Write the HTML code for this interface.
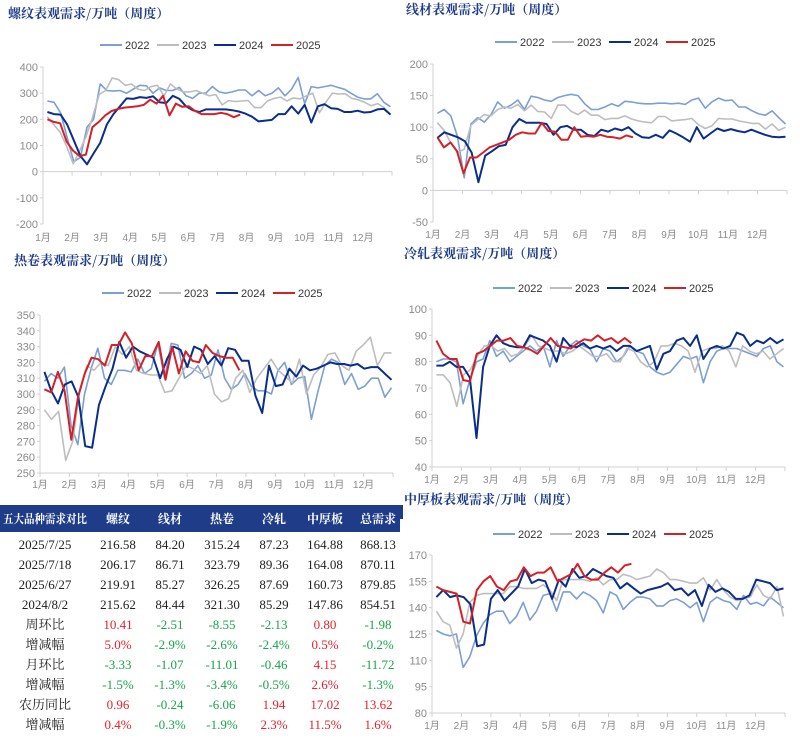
<!DOCTYPE html>
<html><head><meta charset="utf-8"><style>
body{margin:0;width:800px;height:741px;background:#fff;overflow:hidden;font-family:"Liberation Sans","Noto Sans CJK SC",sans-serif;}
svg{position:absolute;left:0;top:0}
</style></head><body>
<svg id="s" width="800" height="741" xmlns="http://www.w3.org/2000/svg"></svg>
<script>
var S=document.getElementById('s');var h='';
var C={a:'#7b9fd4',b:'#bdbdbd',c:'#0b2e8c',d:'#d42027'};
function chart(o){
 var x0=o.x0,x1=o.x1,yt=o.yt,yb=o.yb;
 h+='<text x="'+o.tx+'" y="'+o.ty+'" font-family="Noto Serif CJK SC,serif" font-weight="bold" font-size="13" fill="#1f3c88">'+o.title+'</text>';
 var lx=o.lx,ly=o.ly,names=['2022','2023','2024','2025'],cols=[C.a,C.b,C.c,C.d];
 for(var i=0;i<4;i++){var px=lx+i*57;h+='<line x1="'+px+'" y1="'+ly+'" x2="'+(px+22)+'" y2="'+ly+'" stroke="'+cols[i]+'" stroke-width="2"/><text x="'+(px+25)+'" y="'+(ly+4)+'" font-size="11" fill="#333">'+names[i]+'</text>';}
 h+='<line x1="'+x0+'" y1="'+yt+'" x2="'+x0+'" y2="'+yb+'" stroke="#d0d0d0"/>';
 var n=o.ticks.length;
 for(var i=0;i<n;i++){var y=yt+(yb-yt)*i/(n-1);h+='<line x1="'+(x0-3)+'" y1="'+y+'" x2="'+x0+'" y2="'+y+'" stroke="#d0d0d0"/><text x="'+(x0-5)+'" y="'+(y+4)+'" text-anchor="end" font-size="11" fill="#8a8a8a">'+o.ticks[i]+'</text>';}
 var vmax=o.ticks[0],vmin=o.ticks[n-1];
 function Y(v){return yt+(vmax-v)/(vmax-vmin)*(yb-yt);}
 var ay=Y(o.axis);
 h+='<line x1="'+x0+'" y1="'+ay+'" x2="'+x1+'" y2="'+ay+'" stroke="#d0d0d0"/>';
 var mw=(x1-x0)/12;
 for(var m=0;m<=12;m++){var x=x0+m*mw;h+='<line x1="'+x+'" y1="'+ay+'" x2="'+x+'" y2="'+(ay+4)+'" stroke="#d0d0d0"/>';}
 for(var m=0;m<12;m++){h+='<text x="'+(x0+m*mw+mw*0.0)+'" y="'+o.my+'" text-anchor="middle" font-size="10" fill="#8a8a8a">'+(m+1)+'月</text>';}
 var ser=[o.a,o.b,o.c,o.d];
 for(var k=0;k<4;k++){var d=ser[k],end=k==3?6.78:11.95,st=0.15,p=[];
  for(var i=0;i<d.length;i++){var m=st+(end-st)*i/(d.length-1);p.push((x0+m*mw).toFixed(1)+','+Y(d[i]).toFixed(1));}
  h+='<polyline points="'+p.join(' ')+'" fill="none" stroke="'+cols[k]+'" stroke-width="'+(k>=2?2:1.6)+'" stroke-linejoin="round"/>';}
}
chart({title:'螺纹表观需求/万吨（周度）',tx:8,ty:18,lx:100,ly:45,x0:43,x1:392,yt:67,yb:224,ticks:[400,300,200,100,0,-100,-200],axis:0,my:241,
a:[270,265,225,130,38,55,170,200,335,310,308,310,300,315,330,328,300,320,310,310,322,290,280,300,300,325,305,300,305,312,312,290,310,290,300,320,290,315,360,260,325,320,325,330,322,315,300,285,278,278,298,265,248],
b:[210,180,150,95,30,80,135,210,295,310,358,352,330,335,315,310,325,330,290,335,315,305,305,310,300,290,295,255,272,268,270,272,245,245,270,280,285,270,282,278,290,300,225,265,300,297,298,280,275,265,252,260,245,218],
c:[228,220,218,180,120,60,28,70,110,180,220,250,280,278,285,282,288,265,262,290,278,250,235,228,238,238,238,238,235,230,222,210,192,195,198,220,220,250,222,255,188,250,258,242,240,228,228,233,226,228,238,240,218],
d:[200,190,185,115,80,60,65,170,190,215,232,240,245,247,250,255,275,260,290,215,260,248,250,232,220,220,220,225,220,208,218]});
chart({title:'线材表观需求/万吨（周度）',tx:406,ty:14,lx:495,ly:42,x0:433,x1:787,yt:64,yb:222,ticks:[200,150,100,50,0,-50],axis:0,my:238,
a:[122,128,118,85,20,105,115,108,120,140,130,135,143,128,149,147,143,141,147,150,152,150,137,128,128,132,137,133,141,140,138,137,137,138,138,137,138,136,143,146,130,140,146,142,143,132,132,126,121,119,126,115,105],
b:[107,95,75,60,65,103,112,120,118,128,132,130,136,126,135,125,124,114,135,135,125,120,127,119,119,112,114,114,118,113,110,108,107,117,117,110,111,112,114,104,98,102,114,113,113,110,108,106,106,97,105,95,100],
c:[83,92,88,84,78,60,13,55,62,70,72,100,113,107,107,107,105,88,100,102,96,96,88,86,96,93,98,95,100,90,84,83,88,83,95,90,84,77,100,82,90,98,94,97,94,92,96,92,88,85,84,85],
d:[84,68,76,62,27,52,52,60,68,72,76,80,88,92,90,90,107,94,93,80,80,100,85,86,85,88,85,84,82,87,84]});
chart({title:'热卷表观需求/万吨（周度）',tx:14,ty:265,lx:102,ly:293,x0:40,x1:393,yt:315,yb:473,ticks:[350,340,330,320,310,300,290,280,270,260,250],axis:250,my:488,
a:[308,313,310,317,280,268,300,316,329,310,306,315,315,314,322,313,316,332,310,332,331,310,313,318,310,312,328,310,303,306,313,305,302,302,300,315,320,306,310,311,284,302,318,322,320,306,313,303,305,310,310,298,304],
b:[290,284,289,258,270,303,318,315,320,318,330,325,330,315,313,312,312,301,302,310,318,316,313,318,300,295,297,310,315,301,310,316,322,315,311,307,322,300,312,317,325,326,318,315,327,331,336,318,326,326],
c:[314,302,294,306,308,298,267,266,293,305,316,333,323,330,327,325,323,310,322,330,328,317,330,328,319,324,318,329,328,321,321,299,288,318,305,306,316,311,318,315,316,318,320,319,319,318,319,316,317,317,313,309],
d:[303,301,314,302,271,298,313,323,322,318,331,331,339,332,315,324,324,333,309,330,313,327,321,320,331,326,324,323,323,315]});
chart({title:'冷轧表观需求/万吨（周度）',tx:404,ty:258,lx:493,ly:288,x0:432,x1:785,yt:309,yb:467,ticks:[100,90,80,70,60,50,40],axis:40,my:483,
a:[80,81,81,80,64,73,80,81,88,82,84,80,82,84,86,84,86,78,88,82,86,88,86,85,80,85,84,80,82,86,84,83,78,76,75,76,79,82,81,82,72,80,84,85,85,85,84,83,82,85,86,80,78],
b:[75,75,72,63,75,77,82,86,86,84,85,82,83,86,90,86,85,84,84,83,84,86,84,82,82,83,80,80,85,84,80,78,80,86,86,87,86,84,76,84,85,85,86,84,78,86,84,83,84,81,83,85],
c:[78.5,78.5,80,78,78,74,51,78,86,90,87,86,85.5,85.5,90,89,88,86,80,89,86,85.5,87,85,86,85,86,84,86,86,84,85,86,77,83,84,88,89,86,90,81,85,86,85,86,91,90,86,88,87,89,87,88.5],
d:[88,83,81,81,73,72.5,83,84,86,88,88,89,86,85.5,84.5,83,86,89,86,85.5,85,87,88.5,88,90,88,89,87,89,87]});
chart({title:'中厚板表观需求/万吨（周度）',tx:404,ty:504,lx:493,ly:534,x0:432,x1:785,yt:555,yb:713,ticks:[170,155,140,125,110,95,80],axis:80,my:729,
a:[127,125,124,125,106,112,124,131,136,138,138,131,135,143,133,138,147,148,138,149,149,145,149,147,144,137,149,147,139,143,146,146,145,141,141,144,145,143,140,143,132,143,146,144,143,139,147,142,143,141,146,143,140],
b:[138,132,130,117,125,143,147,148,148,148,148,152,152,151,151,151,153,150,144,156,156,156,156,155,157,153,156,156,159,158,156,157,158,162,160,156,156,155,154,154,157,150,156,150,146,144,145,146,153,147,145,152,135],
c:[146,150,146,147,146,142,118,119,145,150,144,148,152,162,154,156,155,145,156,152,162,157,158,162,160,158,157,151,154,151,148,150,151,152,154,150,151,147,150,141,153,149,151,149,145,145,147,156,155,154,150,151],
d:[152,150,149,148,132,131,150,155,158,152,150,155,156,163,158,160,160,163,155,157,159,165,158,156,156,160,163,160,164,165]});
h+='<rect x="400" y="505" width="3" height="14" fill="#1f3c88"/>';
h+='<rect x="0" y="505" width="400" height="27" fill="#1f3c88"/>';
var cx=[45,118,170,222,274,325,378];
var hd=['五大品种需求对比','螺纹','线材','热卷','冷轧','中厚板','总需求'];
for(var i=0;i<7;i++)h+='<text x="'+cx[i]+'" y="523" text-anchor="middle" font-family="Noto Serif CJK SC,serif" font-weight="bold" font-size="12" fill="#fff"'+(i==0?' textLength="84" lengthAdjust="spacingAndGlyphs"':'')+'>'+hd[i]+'</text>';
var G='#1aa34a',Rd='#e8202a',K='#222';
var rows=[['2025/7/25','216.58','84.20','315.24','87.23','164.88','868.13'],['2025/7/18','206.17','86.71','323.79','89.36','164.08','870.11'],['2025/6/27','219.91','85.27','326.25','87.69','160.73','879.85'],['2024/8/2','215.62','84.44','321.30','85.29','147.86','854.51'],
['周环比','10.41','-2.51','-8.55','-2.13','0.80','-1.98'],['增减幅','5.0%','-2.9%','-2.6%','-2.4%','0.5%','-0.2%'],['月环比','-3.33','-1.07','-11.01','-0.46','4.15','-11.72'],['增减幅','-1.5%','-1.3%','-3.4%','-0.5%','2.6%','-1.3%'],['农历同比','0.96','-0.24','-6.06','1.94','17.02','13.62'],['增减幅','0.4%','-0.3%','-1.9%','2.3%','11.5%','1.6%']];
for(var r=0;r<rows.length;r++){var y=549+r*20;for(var i=0;i<7;i++){var t=rows[r][i],col=K;if(r>=4&&i>0)col=t[0]=='-'?G:Rd;
 h+='<text x="'+cx[i]+'" y="'+y+'" text-anchor="middle" font-family="Liberation Serif,Noto Serif CJK SC,serif" font-size="13" fill="'+col+'">'+t+'</text>';}}
S.innerHTML=h;
</script>
</body></html>
